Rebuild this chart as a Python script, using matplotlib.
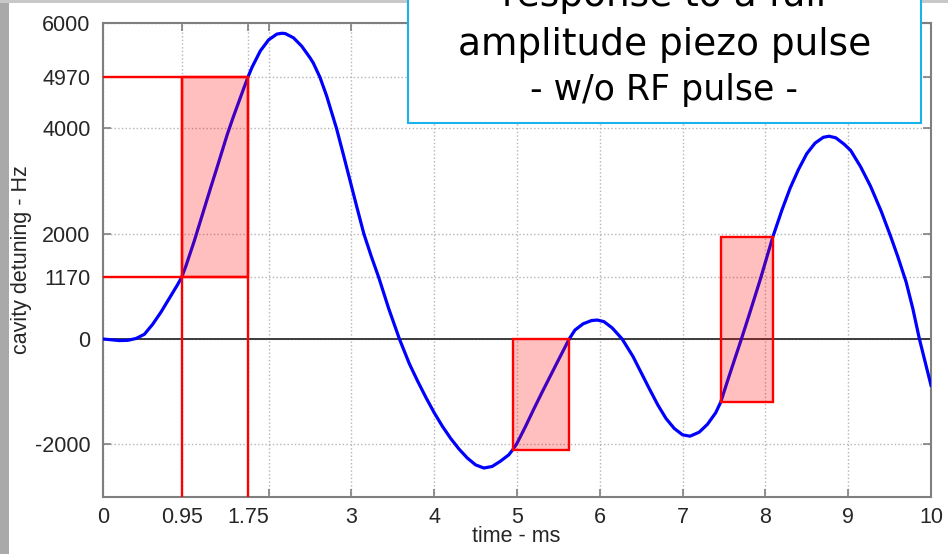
import matplotlib
matplotlib.use('Agg')
import matplotlib.pyplot as plt
from matplotlib.patches import Rectangle

plt.rcParams['axes.unicode_minus'] = False

# detuning curve (time in ms, detuning in Hz)
t_ms = [0.0, 0.1, 0.2, 0.3, 0.4, 0.5, 0.6, 0.7, 0.8, 0.9, 0.95, 1.0, 1.1,
        1.2, 1.3, 1.37, 1.5, 1.57, 1.6, 1.7, 1.75, 1.8, 1.9, 2.0, 2.1, 2.16,
        2.2, 2.3, 2.4, 2.5, 2.54, 2.62, 2.7, 2.82, 2.9, 2.98, 3.06, 3.15,
        3.24, 3.33, 3.45, 3.58, 3.7, 3.8, 3.9, 4.0, 4.1, 4.2, 4.3, 4.4, 4.5,
        4.6, 4.7, 4.8, 4.9, 4.95, 5.0, 5.1, 5.2, 5.3, 5.4, 5.5, 5.63, 5.7,
        5.8, 5.9, 5.97, 6.05, 6.15, 6.27, 6.4, 6.5, 6.6, 6.7, 6.8, 6.9, 7.0,
        7.09, 7.2, 7.3, 7.4, 7.46, 7.55, 7.63, 7.71, 7.8, 7.94, 8.09, 8.2,
        8.3, 8.4, 8.5, 8.6, 8.7, 8.77, 8.85, 8.95, 9.03, 9.15, 9.27, 9.4,
        9.51, 9.6, 9.7, 9.78, 9.86, 10.0]
detune_hz = [0, -15, -30, -25, 10, 90, 280, 510, 770, 1030, 1170, 1380, 1850,
             2360, 2870, 3220, 3880, 4200, 4330, 4760, 4970, 5160, 5470, 5680, 5790, 5805,
             5800, 5720, 5560, 5340, 5240, 4970, 4620, 4000, 3520, 3030, 2540, 2000,
             1570, 1170, 580, 0, -470, -800, -1110, -1400, -1660, -1890, -2090, -2260, -2390,
             -2450, -2420, -2320, -2200, -2100, -1980, -1670, -1340, -1020, -710, -400, 0, 170,
             290, 350, 360, 330, 210, 0, -330, -640, -950, -1250, -1510, -1700, -1820,
             -1845, -1770, -1620, -1400, -1200, -760, -380, 0, 440, 1140, 1940, 2450,
             2870, 3220, 3520, 3720, 3830, 3850, 3820, 3700, 3580, 3270, 2900, 2420,
             1960, 1560, 1080, 580, 0, -880]

# highlighted windows
win_start = [0.95, 4.95, 7.46]
win_end = [1.75, 5.63, 8.09]
win_low = [1170, -2100, -1200]
win_high = [4970, 0, 1940]

x_ticks = [0, 0.95, 1.75, 2, 3, 4, 5, 6, 7, 8, 9, 10]
x_tick_labels = ['0', '0.95', '1.75', '', '3', '4', '5', '6', '7', '8', '9', '10']
y_ticks = [-2000, 0, 1170, 2000, 4000, 4970, 6000]

W, H = 948, 554
fig = plt.figure(figsize=(W / 100, H / 100), dpi=100)
ax = fig.add_axes([103 / W, 1 - 497 / H, (931 - 103) / W, (497 - 23) / H])

ax.set_xlim(0, 10)
ax.set_ylim(-3000, 6000)
ax.grid(True, linestyle=':', color='#b4b4b4', lw=1.0)
ax.axhline(0, color='#3c3c3c', lw=1.4, zorder=2)

ax.plot(t_ms, detune_hz, color='#0000ff', lw=2.3, zorder=3,
        solid_joinstyle='round')

# guide lines of the first window
ax.vlines([win_start[0], win_end[0]], -3000, win_high[0], color='red', lw=1.7, zorder=4)
ax.hlines([win_low[0], win_high[0]], 0, win_end[0], color='red', lw=1.7, zorder=4)

for x0, x1, y0, y1 in zip(win_start, win_end, win_low, win_high):
    ax.add_patch(Rectangle((x0, y0), x1 - x0, y1 - y0, facecolor=(1, 0, 0, 0.25),
                           edgecolor='red', lw=1.7, zorder=5))

ax.set_xticks(x_ticks)
ax.set_xticklabels(x_tick_labels)
ax.set_yticks(y_ticks)
ax.tick_params(direction='in', top=True, right=True, length=6, width=1.2,
               color='#7f7f7f', labelsize=15.5, labelcolor='#262626',
               labelfontfamily='Liberation Sans')
ax.tick_params(axis='y', pad=9)
ax.tick_params(axis='x', pad=7)
for s in ax.spines.values():
    s.set_color('#7f7f7f')
    s.set_linewidth(1.5)

fig.text(516 / W, 1 - 537 / H, 'time - ms', ha='center', va='center',
         fontsize=15.5, color='#262626', family='Liberation Sans')
fig.text(22 / W, 1 - 260 / H, 'cavity detuning - Hz', ha='center', va='center',
         rotation=90, fontsize=15.5, color='#262626', family='Liberation Sans')

# screenshot frame on the left and top
fig.patches.append(Rectangle((0, 0), 9 / W, 1, transform=fig.transFigure,
                             facecolor='#a9a9a9', edgecolor='none'))
fig.patches.append(Rectangle((0, 1 - 3 / H), 1, 3 / H, transform=fig.transFigure,
                             facecolor='#c8c8c8', edgecolor='none'))

# title box, cut off by the top edge
fig.patches.append(Rectangle((408 / W, 1 - 123 / H), (921 - 408) / W, 0.3,
                             transform=fig.transFigure, facecolor='white',
                             edgecolor='#1ab2ea', lw=1.5, zorder=6))
cx = 664.5 / W
fig.text(cx, 1 - 6 / H, 'response to a full', ha='center', va='baseline',
         fontsize=27, zorder=7)
fig.text(cx, 1 - 55 / H, 'amplitude piezo pulse', ha='center', va='baseline',
         fontsize=27, zorder=7)
fig.text(cx, 1 - 100 / H, '- w/o RF pulse -', ha='center', va='baseline',
         fontsize=25, zorder=7)

fig.savefig('out.png', dpi=100)
